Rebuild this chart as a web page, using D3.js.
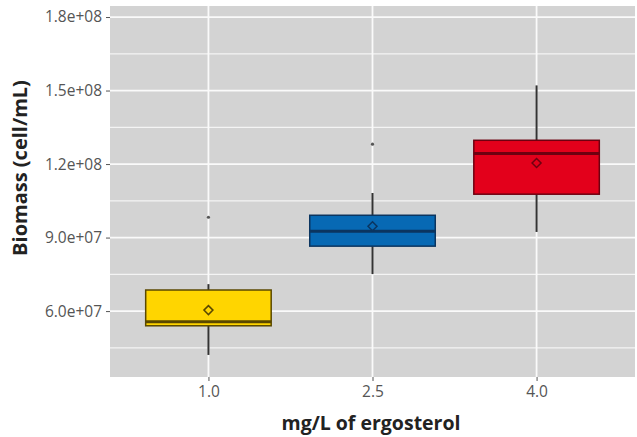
<!DOCTYPE html>
<html><head><meta charset="utf-8">
<script src="https://cdn.jsdelivr.net/npm/d3@7"></script>
<style>body{margin:0;background:#fff}svg{display:block}</style>
</head><body>
<svg id="c" width="637" height="437"></svg>
<script>
const categories = ["1.0", "2.5", "4.0"];
const q1 = [5.40e7, 8.65e7, 1.077e8];
const medians = [5.56e7, 9.26e7, 1.243e8];
const q3 = [6.86e7, 9.91e7, 1.297e8];
const whiskerLow = [4.21e7, 7.51e7, 9.23e7];
const whiskerHigh = [7.10e7, 1.082e8, 1.521e8];
const means = [6.04e7, 9.46e7, 1.2045e8];
const outliers = [[9.83e7], [1.281e8], []];
const yTicks = [6e7, 9e7, 1.2e8, 1.5e8, 1.8e8];
const yTickLabels = ["6.0e+07", "9.0e+07", "1.2e+08", "1.5e+08", "1.8e+08"];
const yMinor = [4.5e7, 7.5e7, 1.05e8, 1.35e8, 1.65e8];
const fills = ["#FFD500", "#0769B4", "#E3001B"];
const strokes = ["#5a4800", "#0b3560", "#6e0010"];

const svg = d3.select("#c");
const L = 110, R = 635, T = 6, B = 377;
const x = d3.scalePoint().domain(categories).range([L, R]).padding(0.6);
const y = d3.scaleLinear().domain([3.31e7, 1.845e8]).range([B, T]);

svg.append("rect").attr("x", L).attr("y", T).attr("width", R - L).attr("height", B - T).attr("fill", "#d3d3d3");

const g = svg.append("g");
g.selectAll(".minor").data(yMinor).join("line")
  .attr("x1", L).attr("x2", R).attr("y1", d => y(d)).attr("y2", d => y(d))
  .attr("stroke", "#f4f4f4").attr("stroke-width", 1.2);
g.selectAll(".major").data(yTicks).join("line")
  .attr("x1", L).attr("x2", R).attr("y1", d => y(d)).attr("y2", d => y(d))
  .attr("stroke", "#fafafa").attr("stroke-width", 1.8);
g.selectAll(".vmajor").data(categories).join("line")
  .attr("x1", d => x(d)).attr("x2", d => x(d)).attr("y1", T).attr("y2", B)
  .attr("stroke", "#fafafa").attr("stroke-width", 1.8);

// axes
const yAxis = d3.axisLeft(y).tickValues(yTicks).tickFormat((d, i) => yTickLabels[i]).tickSize(4).tickPadding(4);
const ya = svg.append("g").attr("transform", `translate(${L},0)`).call(yAxis);
ya.select(".domain").remove();
ya.selectAll("line").attr("stroke", "#555");
ya.selectAll("text").attr("fill", "#555").style("font-family", "Open Sans").style("font-size", "15.5px");

const xAxis = d3.axisBottom(x).tickSize(4).tickPadding(5);
const xa = svg.append("g").attr("transform", `translate(0,${B})`).call(xAxis);
xa.select(".domain").remove();
xa.selectAll("line").attr("stroke", "#555");
xa.selectAll("text").attr("fill", "#555").style("font-family", "Open Sans").style("font-size", "15.5px");

// boxes
const bw = x.step() * 0.765;
categories.forEach((c, i) => {
  const cx = x(c);
  const bg = svg.append("g");
  bg.append("line").attr("x1", cx).attr("x2", cx).attr("y1", y(whiskerHigh[i])).attr("y2", y(q3[i]))
    .attr("stroke", "#333").attr("stroke-width", 2);
  bg.append("line").attr("x1", cx).attr("x2", cx).attr("y1", y(q1[i])).attr("y2", y(whiskerLow[i]))
    .attr("stroke", "#333").attr("stroke-width", 2);
  bg.append("rect").attr("x", cx - bw / 2).attr("width", bw)
    .attr("y", y(q3[i])).attr("height", y(q1[i]) - y(q3[i]))
    .attr("fill", fills[i]).attr("stroke", strokes[i]).attr("stroke-width", 1.5);
  bg.append("line").attr("x1", cx - bw / 2).attr("x2", cx + bw / 2).attr("y1", y(medians[i])).attr("y2", y(medians[i]))
    .attr("stroke", strokes[i]).attr("stroke-width", 3);
  const my = y(means[i]), s = 4.5;
  bg.append("path").attr("d", `M${cx},${my - s}L${cx + s},${my}L${cx},${my + s}L${cx - s},${my}Z`)
    .attr("fill", "none").attr("stroke", strokes[i]).attr("stroke-width", 1.5);
  bg.selectAll("circle").data(outliers[i]).join("circle")
    .attr("cx", cx).attr("cy", d => y(d)).attr("r", 1.6).attr("fill", "#555");
});

svg.append("text").attr("transform", `translate(27,168) rotate(-90)`)
  .attr("text-anchor", "middle").attr("fill", "#222")
  .style("font-family", "Open Sans").style("font-weight", "bold").style("font-size", "20px")
  .text("Biomass (cell/mL)");
svg.append("text").attr("x", 371).attr("y", 430)
  .attr("text-anchor", "middle").attr("fill", "#222")
  .style("font-family", "Open Sans").style("font-weight", "bold").style("font-size", "19.5px")
  .text("mg/L of ergosterol");
</script>
</body></html>
